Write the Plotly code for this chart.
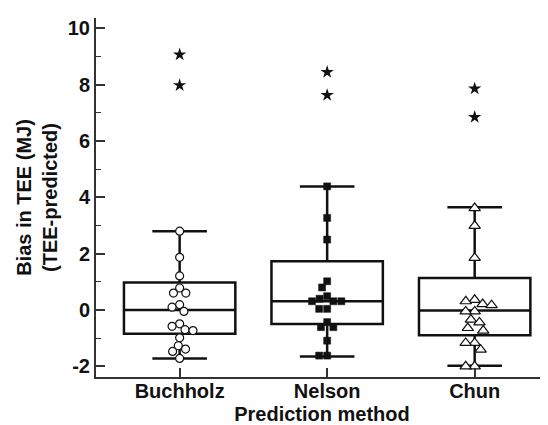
import math
import plotly.graph_objects as go

categories = ["Buchholz", "Nelson", "Chun"]
q1 = [-0.84, -0.50, -0.90]
medians = [0.0, 0.31, -0.02]
q3 = [0.98, 1.73, 1.14]
lower_whisker = [-1.72, -1.65, -1.98]
upper_whisker = [2.80, 4.39, 3.65]
outliers = [[9.07, 7.98], [8.45, 7.63], [7.86, 6.85]]

buchholz_pts = [2.80, 1.87, 1.21, 0.78, 0.60, 0.60, 0.19, 0.10, -0.05, -0.49,
                -0.58, -0.70, -0.73, -0.99, -1.27, -1.39, -1.47, -1.72]
nelson_pts = [4.39, 3.27, 2.50, 1.02, 0.80, 0.49, 0.40, 0.31, 0.31, 0.31,
              0.04, 0.04, -0.43, -0.61, -0.61, -1.09, -1.62, -1.62]
chun_pts = [3.62, 2.99, 1.85, 0.36, 0.31, 0.21, 0.17, -0.05, -0.05, -0.34,
            -0.44, -0.64, -0.73, -1.17, -1.17, -1.41, -2.00, -2.00]

y_ticks = [-2, 0, 2, 4, 6, 8, 10]
y_tick_labels = ["-2", "0", "2", "4", "6", "8", "10"]

W, H = 548, 425
M = dict(l=88, r=8, t=10, b=56)
xr = [-0.567, 2.497]
yr = [-2.38, 10.37]
xpx = (W - M["l"] - M["r"]) / (xr[1] - xr[0])
ypx = (H - M["t"] - M["b"]) / (yr[1] - yr[0])


def swarm(vals, d):
    order = sorted(range(len(vals)), key=lambda i: -vals[i])
    placed = []
    xs = [0.0] * len(vals)
    for i in order:
        y = vals[i] * ypx
        cands = [0.0]
        ivs = []
        for xj, yj in placed:
            dy = abs(y - yj)
            if dy < d:
                dx = math.sqrt(d * d - dy * dy)
                ivs.append((xj - dx, xj + dx))
                cands += [xj - dx, xj + dx]
        valid = [c for c in cands if all(not (a + 1e-6 < c < b - 1e-6) for a, b in ivs)]
        best = min(valid, key=lambda c: (abs(c), c))
        xs[i] = best
        placed.append((best, y))
    return [x / xpx for x in xs]


fig = go.Figure()
font_fam = "Liberation Sans, Arial, sans-serif"
FS = 20

for k, cat in enumerate(categories):
    fig.add_trace(go.Box(
        x=[k], q1=[q1[k]], median=[medians[k]], q3=[q3[k]],
        lowerfence=[lower_whisker[k]], upperfence=[upper_whisker[k]],
        width=0.755, whiskerwidth=0.49, boxpoints=False,
        line=dict(color="#111", width=2.5), fillcolor="rgba(0,0,0,0)",
        showlegend=False, hoverinfo="skip"))

pt_sets = [buchholz_pts, nelson_pts, chun_pts]
styles = [
    dict(symbol="circle", size=8, color="white", line=dict(color="#111", width=1.2)),
    dict(symbol="square", size=7, color="#111", line=dict(color="#111", width=0.5)),
    dict(symbol="triangle-up", size=10, color="white", line=dict(color="#111", width=1.2)),
]
diam = [8, 8, 9]
for k, pts in enumerate(pt_sets):
    offs = swarm(pts, diam[k])
    fig.add_trace(go.Scatter(
        x=[k + o for o in offs], y=pts, mode="markers",
        marker=styles[k], showlegend=False, hoverinfo="skip"))
    fig.add_trace(go.Scatter(
        x=[k] * len(outliers[k]), y=outliers[k], mode="markers",
        marker=dict(symbol="star", size=10, color="#111", line=dict(width=0)),
        showlegend=False, hoverinfo="skip"))

fig.update_layout(
    width=W, height=H, margin=M,
    paper_bgcolor="white", plot_bgcolor="white",
    font=dict(family=font_fam, size=FS, color="#111", weight="bold"),
    xaxis=dict(
        range=xr, tickvals=[0, 1, 2], ticktext=categories,
        ticks="inside", ticklen=9, tickwidth=1.5, tickcolor="#333",
        showline=True, linewidth=2, linecolor="#333", showgrid=False, zeroline=False,
        ticklabelstandoff=-5,
        tickfont=dict(family=font_fam, size=FS, weight="bold"),
        title=dict(text="Prediction method", standoff=6,
                   font=dict(family=font_fam, size=FS, weight="bold"))),
    yaxis=dict(
        range=yr, tickvals=y_ticks, ticktext=y_tick_labels,
        ticks="inside", ticklen=9, tickwidth=1.5, tickcolor="#333",
        minor=dict(dtick=1, tick0=0, ticks="inside", ticklen=5, tickwidth=1.2, tickcolor="#333"),
        showline=True, linewidth=2, linecolor="#333", showgrid=False, zeroline=False,
        tickfont=dict(family=font_fam, size=FS, weight="bold"),
        title=dict(text="Bias in TEE (MJ)<br>(TEE-predicted)", standoff=5,
                   font=dict(family=font_fam, size=FS, weight="bold"))),
)

fig.write_html("out.html")
